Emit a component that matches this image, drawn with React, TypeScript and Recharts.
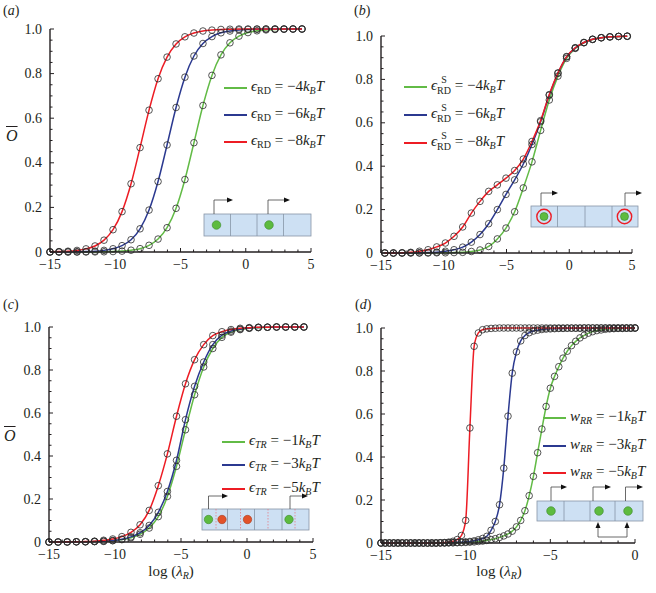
import React from 'react';
import { LineChart, Line, XAxis, YAxis } from 'recharts';

const W = 656;
const H = 593;
const FONT = '"Liberation Serif", "Times New Roman", "DejaVu Serif", serif';
const INK = '#231f20';
const GREEN = '#62bb46';
const BLUE = '#2b3990';
const RED = '#ed1c24';

// ---------- axis ticks ----------
const X_TICKS_TO5 = [-15, -14, -13, -12, -11, -10, -9, -8, -7, -6, -5, -4, -3, -2, -1, 0, 1, 2, 3, 4, 5];
const X_TICKS_TO0 = [-15, -14, -13, -12, -11, -10, -9, -8, -7, -6, -5, -4, -3, -2, -1, 0];
const X_MAJOR = [-15, -10, -5, 0, 5];
const X_MAJOR_LABELS = ['\u221215', '\u221210', '\u22125', '0', '5'];
const Y_TICKS = [0, 0.05, 0.1, 0.15, 0.2, 0.25, 0.3, 0.35, 0.4, 0.45, 0.5, 0.55, 0.6, 0.65, 0.7, 0.75, 0.8, 0.85, 0.9, 0.95, 1];
const Y_MAJOR = [0, 0.2, 0.4, 0.6, 0.8, 1];
const Y_MAJOR_LABELS = ['0', '0.2', '0.4', '0.6', '0.8', '1.0'];

// ---------- data: panel (a) and (c) grid ----------
const GRID_AC = [-15, -14.31, -13.62, -12.93, -12.24, -11.55, -10.86, -10.17, -9.48, -8.79, -8.1, -7.41, -6.72, -6.03, -5.34, -4.66, -3.97, -3.28, -2.59, -1.9, -1.21, -0.52, 0.17, 0.86, 1.55, 2.24, 2.93, 3.62, 4.31];

const A_GREEN = [0, 0, 0, 0, 0.0002, 0.0005, 0.001, 0.002, 0.004, 0.008, 0.015, 0.03, 0.058, 0.109, 0.196, 0.325, 0.49, 0.657, 0.792, 0.884, 0.938, 0.968, 0.984, 0.992, 0.996, 0.998, 0.999, 1, 1];
const A_BLUE = [0.0001, 0.0002, 0.0005, 0.0009, 0.0019, 0.0037, 0.0073, 0.0145, 0.0285, 0.055, 0.104, 0.188, 0.316, 0.48, 0.648, 0.784, 0.879, 0.935, 0.966, 0.983, 0.991, 0.996, 0.998, 0.999, 1, 1, 1, 1, 1];
const A_RED = [0.0009, 0.0018, 0.0035, 0.007, 0.014, 0.027, 0.053, 0.1, 0.181, 0.306, 0.468, 0.636, 0.777, 0.874, 0.933, 0.965, 0.982, 0.991, 0.995, 0.998, 0.999, 1, 1, 1, 1, 1, 1, 1, 1];

// ---------- data: panel (b) ----------
const GRID_B = [-14.7, -14.01, -13.32, -12.63, -11.94, -11.25, -10.56, -9.87, -9.18, -8.49, -7.8, -7.11, -6.42, -5.73, -5.04, -4.35, -3.66, -2.97, -2.28, -1.59, -0.9, -0.21, 0.48, 1.17, 1.86, 2.55, 3.24, 3.93, 4.62];
const B_GREEN = [0, 0, 0, 0, 0, 0, 0.001, 0.001, 0.002, 0.003, 0.007, 0.014, 0.03, 0.065, 0.115, 0.19, 0.3, 0.42, 0.565, 0.705, 0.815, 0.897, 0.943, 0.969, 0.984, 0.992, 0.996, 0.998, 0.999];
const B_BLUE = [0, 0, 0, 0.001, 0.001, 0.002, 0.004, 0.008, 0.015, 0.027, 0.05, 0.085, 0.135, 0.2, 0.27, 0.337, 0.41, 0.5, 0.605, 0.727, 0.828, 0.904, 0.945, 0.97, 0.985, 0.992, 0.996, 0.998, 0.999];
const B_RED = [0, 0, 0.001, 0.003, 0.008, 0.015, 0.028, 0.046, 0.077, 0.12, 0.184, 0.238, 0.284, 0.314, 0.345, 0.38, 0.433, 0.514, 0.61, 0.73, 0.83, 0.905, 0.946, 0.97, 0.985, 0.992, 0.996, 0.998, 0.999];

// ---------- data: panel (c) ----------
const C_GREEN = [0, 0, 0, 0.001, 0.001, 0.002, 0.003, 0.006, 0.011, 0.02, 0.036, 0.065, 0.118, 0.212, 0.352, 0.522, 0.685, 0.814, 0.9, 0.952, 0.976, 0.988, 0.994, 0.997, 0.999, 1, 1, 1, 1];
const C_BLUE = [0, 0, 0, 0.001, 0.001, 0.002, 0.004, 0.007, 0.013, 0.024, 0.043, 0.077, 0.138, 0.235, 0.38, 0.569, 0.724, 0.837, 0.918, 0.962, 0.981, 0.99, 0.995, 0.998, 0.999, 1, 1, 1, 1];
const C_RED = [0, 0, 0.001, 0.001, 0.002, 0.004, 0.008, 0.014, 0.025, 0.045, 0.08, 0.147, 0.262, 0.41, 0.585, 0.736, 0.848, 0.918, 0.96, 0.978, 0.988, 0.994, 0.997, 0.999, 0.999, 1, 1, 1, 1];

// ---------- data: panel (d) ----------
const GRID_D = [-15, -14.75, -14.5, -14.25, -14, -13.75, -13.5, -13.25, -13, -12.75, -12.5, -12.25, -12, -11.75, -11.5, -11.25, -11, -10.75, -10.5, -10.25, -10, -9.75, -9.5, -9.25, -9, -8.75, -8.5, -8.25, -8, -7.75, -7.5, -7.25, -7, -6.75, -6.5, -6.25, -6, -5.75, -5.5, -5.25, -5, -4.75, -4.5, -4.25, -4, -3.75, -3.5, -3.25, -3, -2.75, -2.5, -2.25, -2, -1.75, -1.5, -1.25, -1, -0.75, -0.5, -0.25, 0];
const D_GREEN = [0, 0, 0, 0, 0, 0, 0, 0, 0, 0, 0, 0, 0, 0, 0, 0,
  0.001, 0.001, 0.0015, 0.002, 0.003, 0.004, 0.005, 0.007, 0.009, 0.012, 0.016, 0.02, 0.026, 0.033, 0.042, 0.055, 0.075, 0.105, 0.15, 0.22, 0.31, 0.42, 0.53, 0.635, 0.72, 0.775, 0.82, 0.86, 0.892, 0.918, 0.938, 0.954, 0.966, 0.976, 0.983, 0.988, 0.991, 0.994, 0.996, 0.997, 0.998, 0.998, 0.999, 0.999, 1];
const D_BLUE = [0, 0, 0, 0, 0, 0, 0, 0, 0, 0, 0, 0, 0, 0,
  0.001, 0.001, 0.001, 0.002, 0.003, 0.004, 0.005, 0.007, 0.01, 0.015, 0.021, 0.031, 0.059, 0.1, 0.178, 0.348, 0.59, 0.79, 0.889, 0.94, 0.965, 0.978, 0.986, 0.99, 0.993, 0.995, 0.996, 0.997, 0.998, 0.998, 0.999, 0.999, 0.999, 0.999,
  1, 1, 1, 1, 1, 1, 1, 1, 1, 1, 1, 1, 1];
const D_RED = [0, 0, 0, 0, 0, 0, 0, 0, 0, 0, 0, 0, 0, 0,
  0.001, 0.002, 0.004, 0.008, 0.016, 0.035, 0.105, 0.535, 0.915, 0.977, 0.992, 0.996, 0.998, 0.999,
  1, 1, 1, 1, 1, 1, 1, 1, 1, 1, 1, 1, 1, 1, 1, 1, 1, 1, 1, 1, 1, 1, 1, 1, 1, 1, 1, 1, 1, 1, 1, 1, 1];

const zip = (xs: number[], vs: number[]) => xs.map((x, i) => ({ x, v: vs[i] }));

type Series = { color: string; data: { x: number; v: number }[] };

const XTick = (p: any) => {
  const v = p.payload.value;
  const i = X_MAJOR.indexOf(v);
  const major = i >= 0;
  return (
    <g>
      <line x1={p.x} x2={p.x} y1={p.y} y2={p.y - (major ? 4 : 2.5)} stroke={INK} strokeWidth={1} />
      {major && (
        <text x={p.x} y={p.y + 17} textAnchor="middle" fontFamily={FONT} fontSize={14} fill={INK}>
          {X_MAJOR_LABELS[i]}
        </text>
      )}
    </g>
  );
};

const YTick = (p: any) => {
  const v = p.payload.value;
  const i = Y_MAJOR.findIndex((m) => Math.abs(m - v) < 1e-6);
  const major = i >= 0;
  return (
    <g>
      <line x1={p.x} x2={p.x + (major ? 4 : 2.5)} y1={p.y} y2={p.y} stroke={INK} strokeWidth={1} />
      {major && (
        <text x={p.x - 8} y={p.y + 4.5} textAnchor="end" fontFamily={FONT} fontSize={14} fill={INK}>
          {Y_MAJOR_LABELS[i]}
        </text>
      )}
    </g>
  );
};

const renderDot = (props: any) => (
  <circle key={`d${props.index}`} cx={props.cx} cy={props.cy} r={3.3} fill="none" stroke="#2a2a2a" strokeWidth={0.8} />
);

function Panel({ rect, xDomain, xTicks, series }: { rect: number[]; xDomain: number[]; xTicks: number[]; series: Series[] }) {
  const [x0, x1, y0, y1] = rect;
  const YW = 40;
  const XH = 30;
  return (
    <div style={{ position: 'absolute', left: 0, top: 0, width: W, height: H }}>
      <LineChart width={W} height={H} margin={{ top: y0, right: W - x1, bottom: H - y1 - XH, left: x0 - YW }}>
        <XAxis
          type="number"
          dataKey="x"
          domain={xDomain}
          ticks={xTicks}
          interval={0}
          height={XH}
          tickLine={false}
          tickSize={0}
          tickMargin={0}
          axisLine={{ stroke: INK, strokeWidth: 1.4 }}
          tick={XTick}
        />
        <YAxis
          type="number"
          domain={[0, 1]}
          ticks={Y_TICKS}
          interval={0}
          width={YW}
          tickLine={false}
          tickSize={0}
          tickMargin={0}
          axisLine={{ stroke: INK, strokeWidth: 1.4 }}
          tick={YTick}
        />
        {series.map((s, i) => (
          <Line key={`l${i}`} data={s.data} dataKey="v" type="monotone" stroke={s.color} strokeWidth={1.5} dot={false} activeDot={false} isAnimationActive={false} />
        ))}
        {series.map((s, i) => (
          <Line key={`p${i}`} data={s.data} dataKey="v" type="monotone" stroke="none" dot={renderDot} activeDot={false} isAnimationActive={false} />
        ))}
      </LineChart>
    </div>
  );
}

const sub = (t: string, italic = false) => (
  <span style={{ fontSize: 10, verticalAlign: -3, lineHeight: '10px', fontStyle: italic ? 'italic' : 'normal' }}>{t}</span>
);

function LegendRow({ x, y, color, children }: { x: number; y: number; color: string; children: React.ReactNode }) {
  return (
    <div style={{ position: 'absolute', left: x, top: y - 13, height: 22, whiteSpace: 'nowrap', fontFamily: FONT, fontSize: 15, lineHeight: '22px', color: INK }}>
      <span style={{ display: 'inline-block', width: 23, height: 0, borderTop: `2px solid ${color}`, verticalAlign: 'middle', marginRight: 4 }} />
      {children}
    </div>
  );
}

const kBT = (
  <>
    <i>k</i>
    {sub('B', true)}
    <i>T</i>
  </>
);

const epsRD = (
  <>
    <i>ϵ</i>
    {sub('RD')}
  </>
);

const epsSRD = (
  <>
    <i>ϵ</i>
    <span style={{ display: 'inline-block', verticalAlign: -4, lineHeight: '11px', fontSize: 10, textAlign: 'center' }}>
      S<br />RD
    </span>
  </>
);

const epsTR = (
  <>
    <i>ϵ</i>
    {sub('TR', true)}
  </>
);

const wRR = (
  <>
    <i>w</i>
    {sub('RR', true)}
  </>
);

const A_LEG = ['\u22124', '\u22126', '\u22128'];
const C_LEG = ['\u22121', '\u22123', '\u22125'];
const COLORS = [GREEN, BLUE, RED];

function Arrow({ x, y0, y1, x1 }: { x: number; y0: number; y1: number; x1: number }) {
  return (
    <g>
      <path d={`M${x} ${y0} V${y1} H${x1 - 5}`} fill="none" stroke="#444" strokeWidth={0.8} />
      <polygon points={`${x1 - 6},${y1 - 2.5} ${x1},${y1} ${x1 - 6},${y1 + 2.5}`} fill="#111" />
    </g>
  );
}

const BOX_FILL = '#cde0f3';
const BOX_STROKE = '#8795a6';
const CELL_GREEN = '#5dbb3f';
const CELL_GREEN_STROKE = '#3b8a2a';
const CELL_ORANGE = '#e2522a';

function Insets() {
  return (
    <svg width={W} height={H} style={{ position: 'absolute', left: 0, top: 0 }}>
      {/* (a) */}
      <rect x={204} y={214} width={107} height={22} fill={BOX_FILL} stroke={BOX_STROKE} strokeWidth={0.8} />
      {[230.5, 257, 283.5].map((x) => (
        <line key={x} x1={x} x2={x} y1={214} y2={236} stroke={BOX_STROKE} strokeWidth={0.8} />
      ))}
      <circle cx={216.5} cy={225} r={4.3} fill={CELL_GREEN} stroke={CELL_GREEN_STROKE} strokeWidth={0.6} />
      <circle cx={269} cy={225} r={4.3} fill={CELL_GREEN} stroke={CELL_GREEN_STROKE} strokeWidth={0.6} />
      <Arrow x={214} y0={214} y1={200} x1={233} />
      <Arrow x={268} y0={214} y1={200} x1={290} />

      {/* (b) */}
      <rect x={531} y={206} width={107} height={21} fill={BOX_FILL} stroke={BOX_STROKE} strokeWidth={0.8} />
      {[557.5, 585, 612].map((x) => (
        <line key={x} x1={x} x2={x} y1={206} y2={227} stroke={BOX_STROKE} strokeWidth={0.8} />
      ))}
      <circle cx={544} cy={216.5} r={4} fill={CELL_GREEN} stroke={CELL_GREEN_STROKE} strokeWidth={0.6} />
      <circle cx={544} cy={216.5} r={7.2} fill="none" stroke={RED} strokeWidth={1.4} />
      <circle cx={624.5} cy={216.5} r={4} fill={CELL_GREEN} stroke={CELL_GREEN_STROKE} strokeWidth={0.6} />
      <circle cx={624.5} cy={216.5} r={7.2} fill="none" stroke={RED} strokeWidth={1.4} />
      <Arrow x={541} y0={206} y1={193} x1={558} />
      <Arrow x={625} y0={206} y1={193} x1={642} />

      {/* (c) */}
      <rect x={202} y={509} width={107} height={21} fill={BOX_FILL} stroke={BOX_STROKE} strokeWidth={0.8} />
      {[216, 240.5, 268, 295].map((x) => (
        <line key={`dd${x}`} x1={x} x2={x} y1={509} y2={530} stroke="#e8707a" strokeWidth={0.7} strokeDasharray="1.5 1.5" />
      ))}
      {[227.5, 254.5, 282].map((x) => (
        <line key={x} x1={x} x2={x} y1={509} y2={530} stroke={BOX_STROKE} strokeWidth={0.8} />
      ))}
      <circle cx={208.5} cy={519.5} r={4.2} fill={CELL_GREEN} stroke={CELL_GREEN_STROKE} strokeWidth={0.6} />
      <circle cx={222} cy={519.5} r={4.2} fill={CELL_ORANGE} stroke="#a83a1c" strokeWidth={0.6} />
      <circle cx={247.5} cy={519.5} r={4.2} fill={CELL_ORANGE} stroke="#a83a1c" strokeWidth={0.6} />
      <circle cx={289} cy={519.5} r={4.2} fill={CELL_GREEN} stroke={CELL_GREEN_STROKE} strokeWidth={0.6} />
      <Arrow x={208.5} y0={509} y1={496} x1={228} />
      <Arrow x={290} y0={509} y1={496} x1={308} />

      {/* (d) */}
      <rect x={537} y={501} width={106} height={20} fill={BOX_FILL} stroke={BOX_STROKE} strokeWidth={0.8} />
      {[564, 590, 615].map((x) => (
        <line key={x} x1={x} x2={x} y1={501} y2={521} stroke={BOX_STROKE} strokeWidth={0.8} />
      ))}
      <circle cx={551} cy={511} r={4.3} fill={CELL_GREEN} stroke={CELL_GREEN_STROKE} strokeWidth={0.6} />
      <circle cx={599} cy={511} r={4.3} fill={CELL_GREEN} stroke={CELL_GREEN_STROKE} strokeWidth={0.6} />
      <circle cx={628} cy={511} r={4.3} fill={CELL_GREEN} stroke={CELL_GREEN_STROKE} strokeWidth={0.6} />
      <Arrow x={551} y0={501} y1={487} x1={567} />
      <Arrow x={593} y0={501} y1={487} x1={611} />
      <Arrow x={625.5} y0={501} y1={487} x1={643} />
      <path d="M598 528 V537 H627 V528" fill="none" stroke="#444" strokeWidth={0.8} />
      <polygon points="595.5,528 598,522 600.5,528" fill="#111" />
      <polygon points="624.5,528 627,522 629.5,528" fill="#111" />
    </svg>
  );
}

const textStyle: React.CSSProperties = { position: 'absolute', fontFamily: FONT, color: INK, whiteSpace: 'nowrap' };

export default function App() {
  const seriesA: Series[] = [zip(GRID_AC, A_GREEN), zip(GRID_AC, A_BLUE), zip(GRID_AC, A_RED)].map((d, i) => ({ color: COLORS[i], data: d }));
  const seriesB: Series[] = [zip(GRID_B, B_GREEN), zip(GRID_B, B_BLUE), zip(GRID_B, B_RED)].map((d, i) => ({ color: COLORS[i], data: d }));
  const seriesC: Series[] = [zip(GRID_AC, C_GREEN), zip(GRID_AC, C_BLUE), zip(GRID_AC, C_RED)].map((d, i) => ({ color: COLORS[i], data: d }));
  const seriesD: Series[] = [zip(GRID_D, D_GREEN), zip(GRID_D, D_BLUE), zip(GRID_D, D_RED)].map((d, i) => ({ color: COLORS[i], data: d }));

  return (
    <div style={{ position: 'absolute', left: 0, top: 0, width: W, height: H, background: '#fff', overflow: 'hidden' }}>
      <Panel rect={[50, 311, 29, 252]} xDomain={[-15, 5]} xTicks={X_TICKS_TO5} series={seriesA} />
      <Panel rect={[381, 632, 36, 253]} xDomain={[-15, 5]} xTicks={X_TICKS_TO5} series={seriesB} />
      <Panel rect={[49, 313, 327, 542]} xDomain={[-15, 5]} xTicks={X_TICKS_TO5} series={seriesC} />
      <Panel rect={[381, 635, 328, 543]} xDomain={[-15, 0]} xTicks={X_TICKS_TO0} series={seriesD} />

      <Insets />

      {/* panel letters */}
      <div style={{ ...textStyle, left: 3, top: 3, fontSize: 14 }}>(<i>a</i>)</div>
      <div style={{ ...textStyle, left: 354, top: 3, fontSize: 14 }}>(<i>b</i>)</div>
      <div style={{ ...textStyle, left: 3, top: 297, fontSize: 14 }}>(<i>c</i>)</div>
      <div style={{ ...textStyle, left: 355, top: 297, fontSize: 14 }}>(<i>d</i>)</div>

      {/* y labels */}
      <div style={{ ...textStyle, left: 6, top: 127, fontSize: 16 }}>
        <i style={{ textDecoration: 'overline' }}>O</i>
      </div>
      <div style={{ ...textStyle, left: 4, top: 427, fontSize: 16 }}>
        <i style={{ textDecoration: 'overline' }}>O</i>
      </div>

      {/* x labels */}
      <div style={{ ...textStyle, left: 121, width: 100, textAlign: 'center', top: 564, fontSize: 15, lineHeight: '15px' }}>
        log (<i>λ</i>{sub('R', true)})
      </div>
      <div style={{ ...textStyle, left: 449, width: 100, textAlign: 'center', top: 564, fontSize: 15, lineHeight: '15px' }}>
        log (<i>λ</i>{sub('R', true)})
      </div>

      {/* legends */}
      {[88, 115, 142].map((y, i) => (
        <LegendRow key={`la${i}`} x={224} y={y} color={COLORS[i]}>
          {epsRD} = {A_LEG[i]}{kBT}
        </LegendRow>
      ))}
      {[87, 115, 143].map((y, i) => (
        <LegendRow key={`lb${i}`} x={404} y={y} color={COLORS[i]}>
          {epsSRD} = {A_LEG[i]}{kBT}
        </LegendRow>
      ))}
      {[442, 465, 489].map((y, i) => (
        <LegendRow key={`lc${i}`} x={222} y={y} color={COLORS[i]}>
          {epsTR} = {C_LEG[i]}{kBT}
        </LegendRow>
      ))}
      {[418, 446, 473].map((y, i) => (
        <LegendRow key={`ld${i}`} x={543} y={y} color={COLORS[i]}>
          {wRR} = {C_LEG[i]}{kBT}
        </LegendRow>
      ))}
    </div>
  );
}
